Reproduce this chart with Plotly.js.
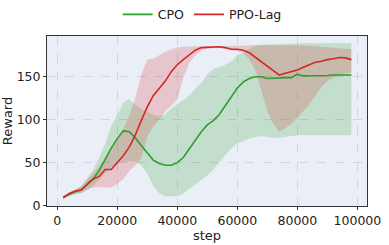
<!DOCTYPE html>
<html>
<head>
<meta charset="utf-8">
<script src="https://cdn.plot.ly/plotly-3.0.1.min.js"></script>
<style>html,body{margin:0;padding:0;background:#fff;}#chart{width:389px;height:245px;}</style>
</head>
<body>
<div id="chart"></div>
<script>
var steps = [2000,4000,6000,8000,10000,12000,14000,16000,18000,20000,22000,24000,26000,28000,30000,32000,34000,36000,38000,40000,42000,44000,46000,48000,50000,52000,54000,56000,58000,60000,62000,64000,66000,68000,70000,72000,74000,76000,78000,80000,82000,84000,86000,88000,90000,92000,94000,96000,98000];

var cpoMean = [10,13,16,18,24,31,41,54,67,78,87,86,79,70,61,53,49,47,47,50,56,66,76,86,94,99,106,116,127,137,144,148,150,150,148,148.5,149,149,149,153,151,151,151.5,151,151.5,152,152,152,152];
var cpoUpper = [11,14,18,23,32,42,56,72,93,105,120,124,117,112,109,106,104,106,113,118,122,128,136,143,153,159,161,164,168,175,178,183,186,187,188,188,188.5,188.5,188.5,189,189,189,189,189,189,189,189,189,189];
var cpoLower = [8,11,13,14,18,23,30,38,45,49,51,52,51,47,37,23,14,11,11,11,14,19,24,29,35,42,50,59,67,72,75,78,80,81,80,79,79,80,81,82,82,82,82,82,82,82,82,82,82];

var lagMean = [9,14,17,18,25,31,34,42,42,50,58,68,82,99,115,128,136,145,156,164,170,176,181,184,184.5,185,185,184,182,182,181,178,173,167,162,158,152,154,156,158,161,164,167,168,170,171,172.5,172,170];
var lagUpper = [11,15,19,22,30,37,45,54,65,78,89,105,125,152,170,171,175,179,182,184,185,185.5,185.5,185.5,185.5,185.5,185.5,185.5,185.5,185.5,186,187,187,187,187,187,187,187,187,187,186.5,186,185.5,185,184.5,184,183,182.5,182];
var lagLower = [8,12,14,15,19,21,22,21,21,25,31,40,47,55,80,92,100,110,116,124,149,166,175,181,183,183.5,183.5,182.5,181,180,178,170,158,134,110,95,86,90,95,102,110,118,128,138,145,149,152,154,155];

var xTicks = [0,20000,40000,60000,80000,100000];
var yTicks = [0,50,100,150];

var green = '#2ca02c', red = '#d62728';
var traces = [
  {x: steps, y: cpoUpper, mode:'lines', line:{width:0}, showlegend:false, hoverinfo:'skip'},
  {x: steps, y: cpoLower, mode:'lines', line:{width:0}, fill:'tonexty', fillcolor:'rgba(44,160,44,0.2)', showlegend:false, hoverinfo:'skip'},
  {x: steps, y: lagUpper, mode:'lines', line:{width:0}, showlegend:false, hoverinfo:'skip'},
  {x: steps, y: lagLower, mode:'lines', line:{width:0}, fill:'tonexty', fillcolor:'rgba(214,39,40,0.2)', showlegend:false, hoverinfo:'skip'},
  {x: steps, y: cpoMean, mode:'lines', name:'CPO', line:{color:green, width:1.6}},
  {x: steps, y: lagMean, mode:'lines', name:'PPO-Lag', line:{color:red, width:1.6}}
];

var layout = {
  width: 389, height: 245,
  margin: {l:47, r:22, t:36, b:39, pad:0, autoexpand:false},
  paper_bgcolor: '#ffffff',
  plot_bgcolor: '#eaeef6',
  font: {family: 'DejaVu Sans', size: 12.5, color: '#222'},
  showlegend: true,
  legend: {orientation:'h', traceorder:'normal', x:0.485, xanchor:'center', yref:'container', y:0.94, yanchor:'middle', font:{size:12.5}, bgcolor:'rgba(0,0,0,0)'},
  xaxis: {
    range: [-3400, 103200], tickvals: xTicks, ticktext: xTicks.map(String),
    showgrid: true, gridcolor:'#d2d5db', griddash:'dash', gridwidth:1,
    zeroline:false, showline:true, linecolor:'#333', linewidth:1, mirror:true,
    ticks:'outside', ticklen:3, tickcolor:'#333', tickfont:{size:12.5},
    title: {text:'step', font:{size:13}, standoff:1}
  },
  yaxis: {
    range: [-0.5, 197.5], tickvals: yTicks, ticktext: yTicks.map(String),
    showgrid: true, gridcolor:'#d2d5db', griddash:'dash', gridwidth:1,
    zeroline:false, showline:true, linecolor:'#333', linewidth:1, mirror:true,
    ticks:'outside', ticklen:3, tickcolor:'#333', tickfont:{size:12.5},
    title: {text:'Reward', font:{size:13}, standoff:3}
  }
};

Plotly.newPlot('chart', traces, layout, {staticPlot:true, displayModeBar:false});
</script>
</body>
</html>
